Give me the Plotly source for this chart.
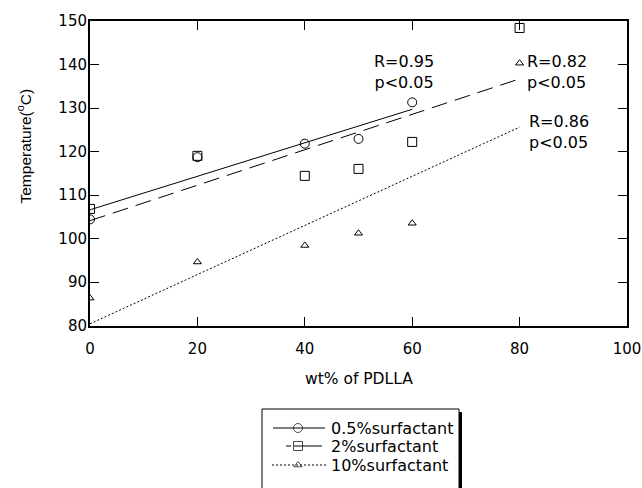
import plotly.graph_objects as go

# ---------------- data ----------------
x_05 = [0, 20, 40, 50, 60]
y_05 = [104.4, 118.7, 121.8, 122.9, 131.3]
x_2 = [0, 20, 40, 50, 60, 80]
y_2 = [106.8, 119.0, 114.4, 116.0, 122.2, 148.4]
x_10 = [0, 20, 40, 50, 60, 80]
y_10 = [86.3, 94.6, 98.4, 101.2, 103.5, 140.3]

# regression lines (endpoints)
fit_x_05 = [0, 60]
fit_y_05 = [106.6, 129.7]
fit_x_2 = [0, 80]
fit_y_2 = [104.1, 136.7]
fit_x_10 = [0, 80]
fit_y_10 = [80.4, 125.6]

labels = ["0.5%surfactant", "2%surfactant", "10%surfactant"]
stats = ["R=0.95<br>p&lt;0.05", "R=0.82<br>p&lt;0.05", "R=0.86<br>p&lt;0.05"]
x_ticks = [0, 20, 40, 60, 80, 100]
y_ticks = [80, 90, 100, 110, 120, 130, 140, 150]

# ---------------- geometry helpers (pixels -> paper) ----------------
W, H = 642, 488
ML, MR, MT, MB = 90, 15, 21, 0
PW, PH = W - ML - MR, H - MT - MB


def px(xp):
    return (xp - ML) / PW


def py(yp):
    return (H - MB - yp) / PH


FONT = "DejaVu Sans"
TFONT = "Liberation Sans"
fig = go.Figure()

styles = [
    ("circle-open", "solid", 9),
    ("square-open", "16px,8px", 9),
    ("triangle-up-open", "2px,2px", 7),
]
legend_dash = ["solid", "5px,3px,40px", "2px,2px"]
data = [(x_05, y_05, fit_x_05, fit_y_05), (x_2, y_2, fit_x_2, fit_y_2), (x_10, y_10, fit_x_10, fit_y_10)]

for (xs, ys, fx, fy), (sym, dash, msz), name in zip(data, styles, labels):
    fig.add_trace(go.Scatter(x=fx, y=fy, mode="lines", line=dict(color="black", width=1, dash=dash),
                             showlegend=False, hoverinfo="skip"))
    fig.add_trace(go.Scatter(x=xs, y=ys, mode="markers", name=name, showlegend=False,
                             marker=dict(symbol=sym, size=msz, color="black", line=dict(width=1, color="black"))))

# ---------------- hand-drawn legend (x2/y2 measure pixels inside the box) ----------------
LEG_L, LEG_R, LEG_T = 262, 459, 409
row_y = [428, 446, 465]
line_spans = [(273, 325), (286, 322), (272, 326)]
marker_x = 298
text_x = 329

fig.add_shape(type="rect", xref="paper", yref="paper", x0=px(LEG_L + 3), x1=px(LEG_R + 3),
              y0=py(H + 20), y1=py(LEG_T + 3), fillcolor="black", line=dict(width=0), layer="below")
fig.add_shape(type="rect", xref="paper", yref="paper", x0=px(LEG_L), x1=px(LEG_R),
              y0=py(H + 20), y1=py(LEG_T), fillcolor="white", line=dict(color="black", width=1), layer="below")

for (sym, _, msz), ldash, name, ry, (l0, l1) in zip(styles, legend_dash, labels, row_y, line_spans):
    yv = H - ry
    fig.add_trace(go.Scatter(x=[l0, marker_x, l1], y=[yv, yv, yv], xaxis="x2", yaxis="y2",
                             mode="lines+markers",
                             line=dict(color="black", width=1, dash=ldash),
                             marker=dict(symbol=sym, size=[0, msz, 0], color="black",
                                         line=dict(width=1, color="black")),
                             showlegend=False, hoverinfo="skip", cliponaxis=False))
    fig.add_annotation(x=text_x, y=yv, xref="x2", yref="y2", text=name, showarrow=False,
                       xanchor="left", yanchor="middle", font=dict(family=FONT, size=16, color="black"))

# ---------------- statistics labels ----------------
fig.add_annotation(x=58.5, y=138.2, xref="x", yref="y", text=stats[0], showarrow=False,
                   align="center", font=dict(family=FONT, size=16, color="black"))
fig.add_annotation(x=81.0, y=138.2, xref="x", yref="y", text=stats[1], showarrow=False,
                   align="left", xanchor="left", font=dict(family=FONT, size=16, color="black"))
fig.add_annotation(x=81.4, y=124.5, xref="x", yref="y", text=stats[2], showarrow=False,
                   align="left", xanchor="left", font=dict(family=FONT, size=16, color="black"))

# ---------------- axis titles ----------------
fig.add_annotation(x=px(24), y=py(146.5), xref="paper", yref="paper", text="Temperature(<sup>o</sup>C)",
                   textangle=-90, showarrow=False, xanchor="center", yanchor="middle",
                   font=dict(family=TFONT, size=15.5, color="black"))
fig.add_annotation(x=0.5, y=py(379), xref="paper", yref="paper", text="wt% of PDLLA",
                   showarrow=False, xanchor="center", yanchor="middle",
                   font=dict(family=FONT, size=15.5, color="black"))

axis_common = dict(showline=True, linecolor="black", linewidth=2, mirror="ticks", ticks="inside",
                   ticklen=9, tickcolor="black", tickwidth=1.3, showgrid=False, zeroline=False,
                   automargin=False, ticklabeloverflow="allow",
                   tickfont=dict(family=FONT, size=15, color="black"))
fig.update_layout(
    width=W, height=H,
    margin=dict(l=ML, r=MR, t=MT, b=MB, autoexpand=False),
    paper_bgcolor="white", plot_bgcolor="rgba(0,0,0,0)",
    font=dict(family=FONT, size=16, color="black"),
    showlegend=False,
    xaxis=dict(domain=[0, 1], range=[0, 100], tickvals=x_ticks, ticklabelstandoff=8, anchor="y",
               **axis_common),
    yaxis=dict(domain=[py(325.5), 1], range=[80, 150], tickvals=y_ticks, ticklabelstandoff=-2, anchor="x",
               **axis_common),
    xaxis2=dict(domain=[px(LEG_L), px(LEG_R)], range=[LEG_L, LEG_R], visible=False, anchor="y2",
                fixedrange=True),
    yaxis2=dict(domain=[0, py(LEG_T)], range=[0, H - LEG_T], visible=False, anchor="x2", fixedrange=True),
)
fig.write_html("out.html", config={"displayModeBar": False},
               post_script="document.body.style.margin='0';document.body.style.overflow='hidden';")
